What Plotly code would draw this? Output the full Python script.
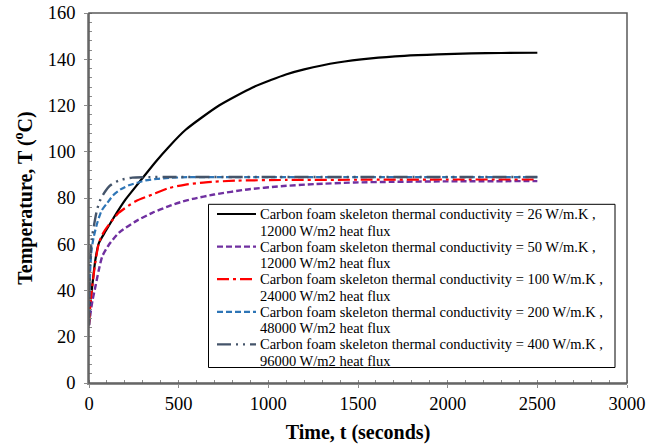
import plotly.graph_objects as go

# ---- data ----
t_k26 = [0, 5, 18, 35, 55, 92, 130, 166, 204, 278, 371, 446, 539, 725, 912, 1014, 1098, 1200, 1387, 1573, 1759, 1945, 2131, 2300, 2500]
T_k26 = [28, 33, 42, 53, 60.5, 65.6, 70.5, 75, 79.4, 86.6, 95.6, 102.2, 109.5, 120.0, 127.8, 131.0, 133.4, 135.6, 138.6, 140.4, 141.5, 142.1, 142.5, 142.7, 142.8]

t_k50 = [0, 10, 20, 36, 55, 74, 111, 166, 260, 353, 446, 511, 577, 697, 884, 1070, 1256, 1480, 1700, 2000, 2500]
T_k50 = [25, 31, 36, 41.8, 49, 54.8, 59.8, 64.9, 69.9, 73.6, 76.5, 78.2, 79.6, 81.5, 83.7, 85.1, 86.0, 86.7, 87.0, 87.2, 87.3]

t_k100 = [0, 10, 20, 35, 55, 80, 111, 166, 260, 353, 446, 539, 650, 818, 1100, 1500, 2000, 2500]
T_k100 = [25, 36, 43, 52, 60.5, 65, 68.5, 73.6, 78.6, 81.5, 84.3, 85.8, 86.8, 87.5, 87.8, 87.9, 88, 88]

t_k200 = [0, 3, 8, 15, 27, 46, 70, 102, 135, 176, 222, 269, 316, 380, 446, 550, 700, 1000, 1500, 2000, 2500]
T_k200 = [25, 40, 51, 58, 63.4, 69.2, 74.5, 77.9, 81.2, 83.7, 85.5, 86.6, 87.6, 88.3, 88.7, 89, 89, 89, 89, 89, 89]

t_k400 = [0, 3, 8, 15, 27, 45, 64, 90, 115, 139, 180, 241, 300, 500, 1000, 1500, 2000, 2500]
T_k400 = [25, 42, 54, 62, 67.8, 75, 79.4, 82.8, 85.2, 86.6, 87.9, 88.8, 89, 89.1, 89.1, 89.1, 89.1, 89.1]

legend_line1 = [
    "Carbon foam skeleton thermal conductivity = 26 W/m.K ,",
    "Carbon foam skeleton thermal conductivity = 50 W/m.K ,",
    "Carbon foam skeleton thermal conductivity = 100 W/m.K ,",
    "Carbon foam skeleton thermal conductivity = 200 W/m.K ,",
    "Carbon foam skeleton thermal conductivity = 400 W/m.K ,",
]
legend_line2 = [
    "12000 W/m2 heat flux",
    "12000 W/m2 heat flux",
    "24000 W/m2 heat flux",
    "48000 W/m2 heat flux",
    "96000 W/m2 heat flux",
]

series = [(t_k26, T_k26), (t_k50, T_k50), (t_k100, T_k100), (t_k200, T_k200), (t_k400, T_k400)]
colors = ["#000000", "#7030A0", "#FF0000", "#2E75B6", "#44546A"]
dashes = ["solid", "6px,3px", "12px,4px,3px,4px", "6px,3px", "14px,5px,2px,5px,2px,5px"]
widths = [2.2, 2.4, 2.2, 2.2, 2.4]

font_family = "Liberation Serif, Times New Roman, serif"

fig = go.Figure()
for (tx, ty), nm, c, d, w in zip(series, legend_line1, colors, dashes, widths):
    fig.add_trace(go.Scatter(x=tx, y=ty, mode="lines", name=nm, showlegend=False,
                             line=dict(color=c, dash=d, width=w, shape="spline", smoothing=0.6)))

# ---- custom legend box (paper coordinates; target page pixels) ----
L, R, B, TOP = 89.0, 627.0, 383.0, 13.0
def px(x):
    return (x - L) / (R - L)
def py(y):
    return (B - y) / (B - TOP)

shapes = [dict(type="rect", xref="paper", yref="paper", x0=px(208.5), x1=px(615), y0=py(367.5), y1=py(204.3),
               line=dict(color="#000000", width=1), fillcolor="white", layer="above")]
annotations = []
entry_y0, entry_step, line_gap = 214.0, 32.6, 16.6
for i, (a, b) in enumerate(zip(legend_line1, legend_line2)):
    yy = entry_y0 + i * entry_step
    shapes.append(dict(type="line", xref="paper", yref="paper", x0=px(217), x1=px(256), y0=py(yy), y1=py(yy),
                       line=dict(color=colors[i], dash=dashes[i], width=widths[i]), layer="above"))
    annotations.append(dict(xref="paper", yref="paper", x=px(258), y=py(yy), text=a, showarrow=False,
                            xanchor="left", yanchor="middle", font=dict(family=font_family, size=14.5, color="#000000")))
    annotations.append(dict(xref="paper", yref="paper", x=px(258), y=py(yy + line_gap), text=b, showarrow=False,
                            xanchor="left", yanchor="middle", font=dict(family=font_family, size=14.5, color="#000000")))

# plot frame
shapes.append(dict(type="rect", xref="paper", yref="paper", x0=0, y0=0, x1=1, y1=1,
                   line=dict(color="#595959", width=1.5), layer="above"))

axis_common = dict(showline=True, linecolor="#8c8c8c", linewidth=1.5, mirror=False,
                   showgrid=False, zeroline=False, ticks="outside", ticklen=3,
                   tickcolor="#8c8c8c", tickwidth=1.2, automargin=False,
                   tickfont=dict(family=font_family, size=18.5, color="#000000"))

fig.update_layout(
    width=665, height=447,
    margin=dict(l=89, r=665 - 627, t=13, b=447 - 383),
    plot_bgcolor="white", paper_bgcolor="white",
    font=dict(family=font_family, color="#000000"),
    showlegend=False,
    xaxis=dict(range=[0, 3000], dtick=500, tick0=0,
               minor=dict(ticks="inside", dtick=100, ticklen=3, tickcolor="#8c8c8c"),
               title=dict(text="<b>Time, t (seconds)</b>", font=dict(size=20, family=font_family), standoff=12),
               **axis_common),
    yaxis=dict(range=[0, 160], dtick=20, tick0=0, ticklabelstandoff=5,
               minor=dict(ticks="inside", dtick=4, ticklen=3, tickcolor="#8c8c8c"),
               title=dict(text="<b>Temperature, T (<sup>o</sup>C)</b>", font=dict(size=20, family=font_family), standoff=10),
               **axis_common),
    shapes=shapes,
    annotations=annotations,
)

fig.write_html("out.html", config={"displayModeBar": False},
               post_script="document.body.style.margin='0';")
